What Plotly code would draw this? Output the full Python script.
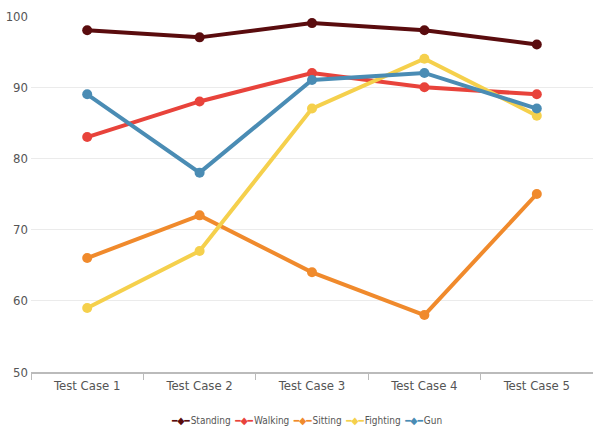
import plotly.graph_objects as go

categories = ["Test Case 1", "Test Case 2", "Test Case 3", "Test Case 4", "Test Case 5"]
standing = [98, 97, 99, 98, 96]
walking = [83, 88, 92, 90, 89]
sitting = [66, 72, 64, 58, 75]
fighting = [59, 67, 87, 94, 86]
gun = [89, 78, 91, 92, 87]

series = [
    ("Standing", standing, "#5a0c0e"),
    ("Walking", walking, "#e8433b"),
    ("Sitting", sitting, "#f08a2c"),
    ("Fighting", fighting, "#f5d04c"),
    ("Gun", gun, "#4a8cb4"),
]

font_family = "DejaVu Sans Condensed, Liberation Sans Narrow, sans-serif"

fig = go.Figure()
for name, vals, color in series:
    fig.add_trace(go.Scatter(
        x=categories, y=vals, name=name, mode="lines+markers",
        line=dict(color=color, width=4),
        marker=dict(color=color, size=10, symbol="circle"),
        showlegend=False,
    ))

# compact legend row: line-and-diamond key followed by the series name
legend_text = "\u2002".join(
    f"<span style='color:{color}'>\u2501\u25c6\u2501</span>\u200a<span style='color:#555555'>{name}</span>"
    for name, _, color in series
)

fig.add_annotation(
    text=legend_text, xref="paper", yref="paper", x=0.49, y=-0.135,
    xanchor="center", yanchor="middle", showarrow=False,
    font=dict(size=10, family=font_family),
)

fig.update_layout(
    width=593, height=430,
    margin=dict(l=31, r=0, t=16, b=58),
    paper_bgcolor="white", plot_bgcolor="white",
    font=dict(family=font_family, color="#555555", size=13),
    xaxis=dict(range=[-0.5, 4.5], showgrid=False, showline=True, linecolor="#bbbbbb", linewidth=2,
               ticks="outside", tickson="boundaries", ticklen=6, tickcolor="#bbbbbb",
               tickfont=dict(size=13, color="#555555")),
    yaxis=dict(range=[50, 100], dtick=10, showgrid=True, gridcolor="#ebebeb",
               zeroline=False, showline=False, ticks="", ticklabelstandoff=2,
               tickfont=dict(size=13, color="#555555")),
)

fig.write_html("out.html")
